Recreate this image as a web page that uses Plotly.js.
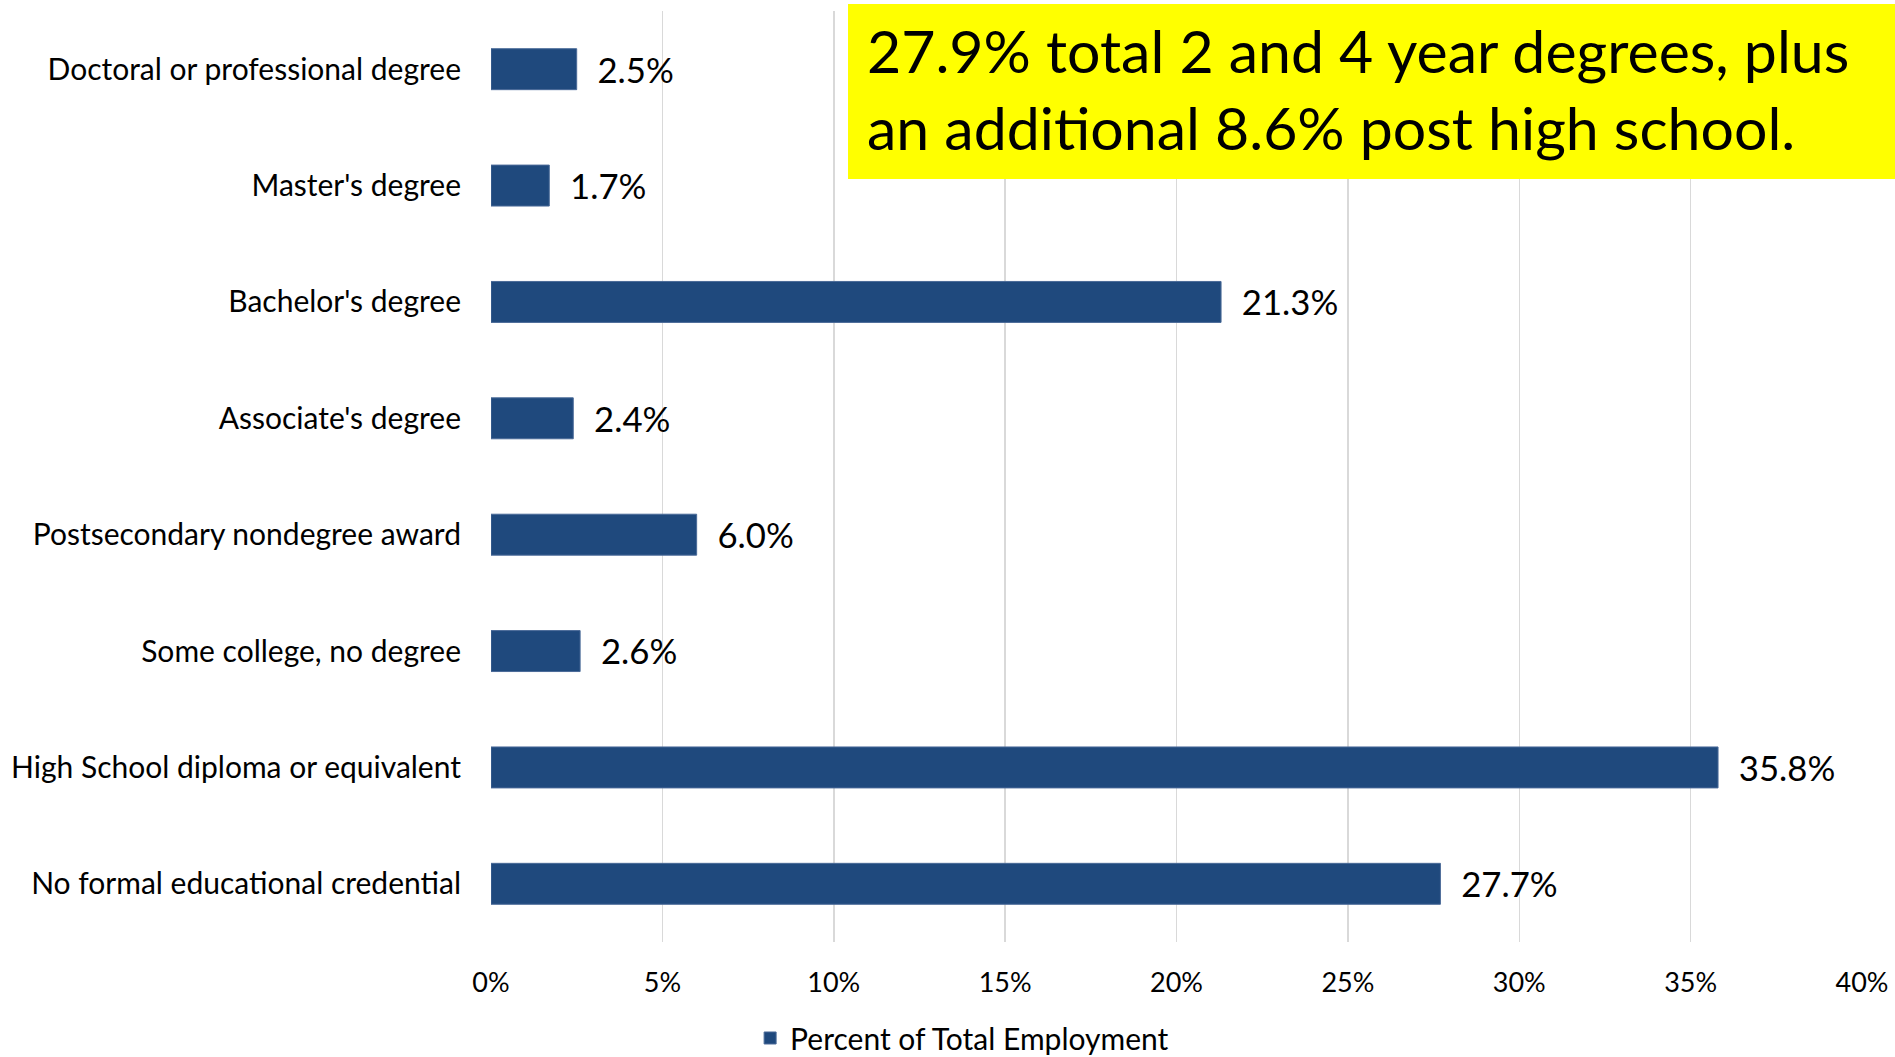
<!DOCTYPE html>
<html>
<head>
<meta charset="utf-8">
<script src="https://cdn.plot.ly/plotly-3.0.1.min.js"></script>
<style>html,body{margin:0;padding:0;background:#fff;}#chart{width:1895px;height:1057px;}</style>
</head>
<body>
<div id="chart"></div>
<script>
const categories = [
  "Doctoral or professional degree",
  "Master's degree",
  "Bachelor's degree",
  "Associate's degree",
  "Postsecondary nondegree award",
  "Some college, no degree",
  "High School diploma or equivalent",
  "No formal educational credential"
];
const percentValues = [2.5, 1.7, 21.3, 2.4, 6.0, 2.6, 35.8, 27.7];
const tickValues = [0, 5, 10, 15, 20, 25, 30, 35, 40];
const tickLabels = ["0%", "5%", "10%", "15%", "20%", "25%", "30%", "35%", "40%"];
const seriesName = "Percent of Total Employment";
const noteLine1 = "27.9% total 2 and 4 year degrees, plus";
const noteLine2 = "an additional 8.6% post high school.";

const FONT = "Lato, 'Open Sans', sans-serif";

const trace = {
  type: 'bar',
  orientation: 'h',
  x: percentValues,
  y: categories,
  name: seriesName,
  marker: {color: '#1F497D', line: {color: '#4A6A98', width: 1}},
  texttemplate: '  %{x:.1f}%',
  textposition: 'outside',
  textfont: {family: FONT, size: 39, color: '#000'},
  cliponaxis: false,
  hoverinfo: 'skip'
};

const layout = {
  width: 1895, height: 1057,
  margin: {l: 491, r: 33, t: 11, b: 115, autoexpand: false},
  paper_bgcolor: '#fff', plot_bgcolor: '#fff',
  bargap: 0.648,
  showlegend: true,
  font: {family: FONT, color: '#000'},
  xaxis: {
    range: [0, 40],
    tickvals: tickValues,
    ticktext: tickLabels,
    showgrid: true, gridcolor: '#D9D9D9', gridwidth: 1.5,
    zeroline: false, showline: false,
    ticks: '',
    ticklabelstandoff: 22,
    tickfont: {family: FONT, size: 27, color: '#000'},
    fixedrange: true
  },
  yaxis: {
    autorange: 'reversed',
    showgrid: false, zeroline: false, showline: false,
    ticks: '',
    ticklabelstandoff: 29,
    tickfont: {family: FONT, size: 30, color: '#000'},
    fixedrange: true
  },
  legend: {
    orientation: 'h',
    x: 0.189, xanchor: 'left',
    y: -0.1031, yanchor: 'middle',
    font: {family: FONT, size: 30, color: '#000'}
  },
  shapes: [{
    type: 'rect', xref: 'paper', yref: 'paper',
    x0: 0.2604, x1: 1.0241, y0: 0.8195, y1: 1.0075,
    fillcolor: '#FFFF00', line: {width: 0}, layer: 'above'
  }],
  annotations: [
    {xref: 'paper', yref: 'paper', x: 0.2728, y: 0.958, xanchor: 'left', yanchor: 'middle',
     text: noteLine1, showarrow: false, font: {family: FONT, size: 59, color: '#000'}},
    {xref: 'paper', yref: 'paper', x: 0.2728, y: 0.8754, xanchor: 'left', yanchor: 'middle',
     text: noteLine2, showarrow: false, font: {family: FONT, size: 59, color: '#000'}}
  ]
};

Plotly.newPlot('chart', [trace], layout, {displayModeBar: false, staticPlot: true});
</script>
</body>
</html>
